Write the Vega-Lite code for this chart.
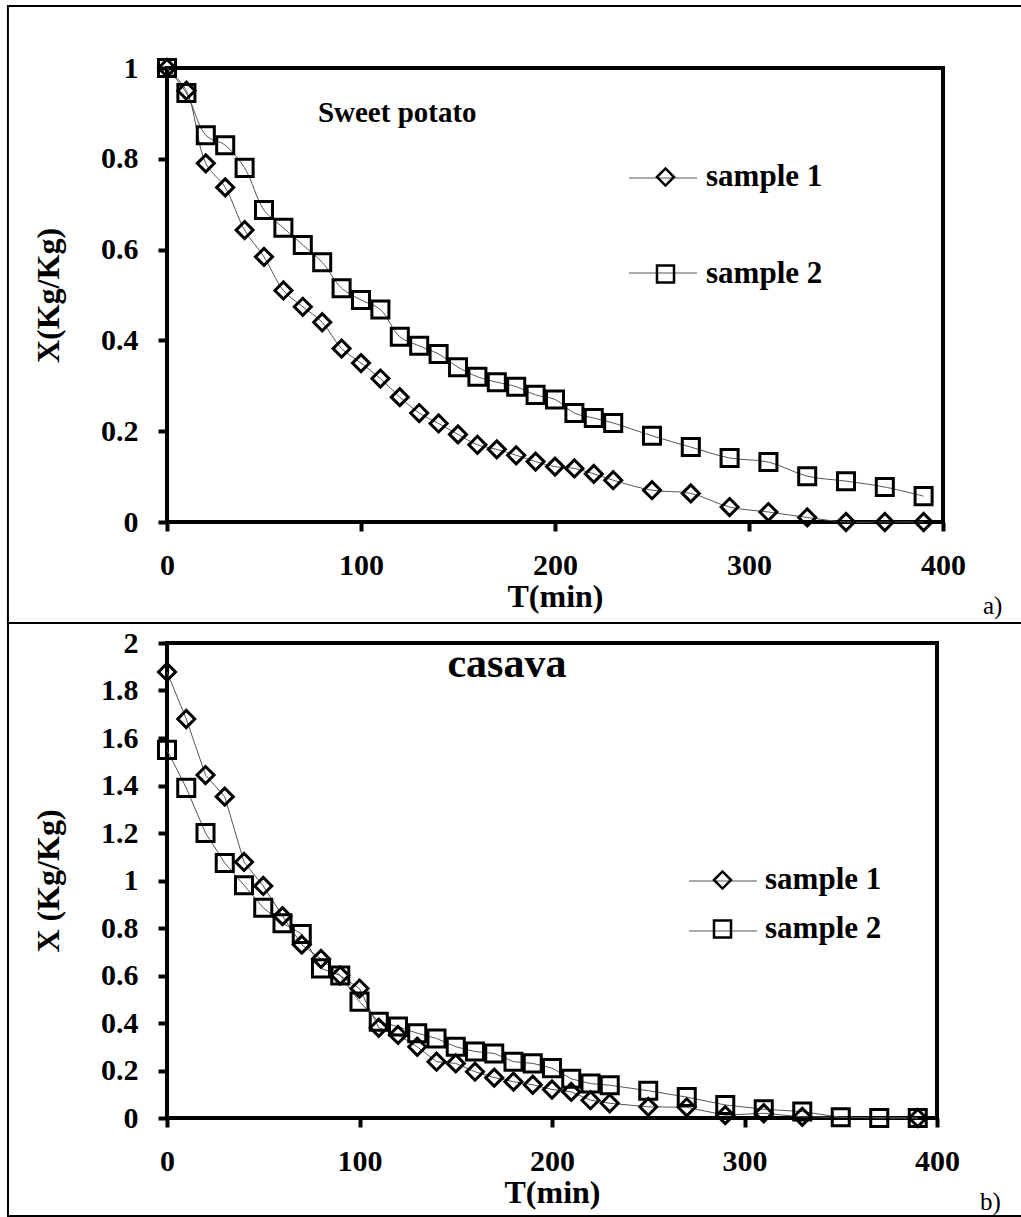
{
  "$schema": "https://vega.github.io/schema/vega-lite/v6.json",
  "padding": {"left": 4, "top": 2, "right": 0, "bottom": 0},
  "background": "white",
  "bounds": "flush",
  "spacing": 121,
  "resolve": {"scale": {"color": "independent", "shape": "independent"}},
  "datasets": {
    "sp": [
      {"t": 0, "X": 1.0, "sample": "sample 1", "series": "sample 1"},
      {"t": 10, "X": 0.95, "sample": "sample 1", "series": "sample 1"},
      {"t": 20, "X": 0.79, "sample": "sample 1", "series": "sample 1"},
      {"t": 30, "X": 0.737, "sample": "sample 1", "series": "sample 1"},
      {"t": 40, "X": 0.643, "sample": "sample 1", "series": "sample 1"},
      {"t": 50, "X": 0.584, "sample": "sample 1", "series": "sample 1"},
      {"t": 60, "X": 0.51, "sample": "sample 1", "series": "sample 1"},
      {"t": 70, "X": 0.474, "sample": "sample 1", "series": "sample 1"},
      {"t": 80, "X": 0.44, "sample": "sample 1", "series": "sample 1"},
      {"t": 90, "X": 0.382, "sample": "sample 1", "series": "sample 1"},
      {"t": 100, "X": 0.35, "sample": "sample 1", "series": "sample 1"},
      {"t": 110, "X": 0.316, "sample": "sample 1", "series": "sample 1"},
      {"t": 120, "X": 0.275, "sample": "sample 1", "series": "sample 1"},
      {"t": 130, "X": 0.24, "sample": "sample 1", "series": "sample 1"},
      {"t": 140, "X": 0.217, "sample": "sample 1", "series": "sample 1"},
      {"t": 150, "X": 0.193, "sample": "sample 1", "series": "sample 1"},
      {"t": 160, "X": 0.17, "sample": "sample 1", "series": "sample 1"},
      {"t": 170, "X": 0.16, "sample": "sample 1", "series": "sample 1"},
      {"t": 180, "X": 0.147, "sample": "sample 1", "series": "sample 1"},
      {"t": 190, "X": 0.133, "sample": "sample 1", "series": "sample 1"},
      {"t": 200, "X": 0.122, "sample": "sample 1", "series": "sample 1"},
      {"t": 210, "X": 0.118, "sample": "sample 1", "series": "sample 1"},
      {"t": 220, "X": 0.106, "sample": "sample 1", "series": "sample 1"},
      {"t": 230, "X": 0.092, "sample": "sample 1", "series": "sample 1"},
      {"t": 250, "X": 0.07, "sample": "sample 1", "series": "sample 1"},
      {"t": 270, "X": 0.063, "sample": "sample 1", "series": "sample 1"},
      {"t": 290, "X": 0.033, "sample": "sample 1", "series": "sample 1"},
      {"t": 310, "X": 0.022, "sample": "sample 1", "series": "sample 1"},
      {"t": 330, "X": 0.01, "sample": "sample 1", "series": "sample 1"},
      {"t": 350, "X": 0.0, "sample": "sample 1", "series": "sample 1"},
      {"t": 370, "X": 0.0, "sample": "sample 1", "series": "sample 1"},
      {"t": 390, "X": 0.0, "sample": "sample 1", "series": "sample 1"},
      {"t": 0, "X": 1.0, "sample": "sample 2", "series": "sample 2"},
      {"t": 10, "X": 0.945, "sample": "sample 2", "series": "sample 2"},
      {"t": 20, "X": 0.852, "sample": "sample 2", "series": "sample 2"},
      {"t": 30, "X": 0.83, "sample": "sample 2", "series": "sample 2"},
      {"t": 40, "X": 0.78, "sample": "sample 2", "series": "sample 2"},
      {"t": 50, "X": 0.687, "sample": "sample 2", "series": "sample 2"},
      {"t": 60, "X": 0.648, "sample": "sample 2", "series": "sample 2"},
      {"t": 70, "X": 0.61, "sample": "sample 2", "series": "sample 2"},
      {"t": 80, "X": 0.572, "sample": "sample 2", "series": "sample 2"},
      {"t": 90, "X": 0.515, "sample": "sample 2", "series": "sample 2"},
      {"t": 100, "X": 0.489, "sample": "sample 2", "series": "sample 2"},
      {"t": 110, "X": 0.468, "sample": "sample 2", "series": "sample 2"},
      {"t": 120, "X": 0.408, "sample": "sample 2", "series": "sample 2"},
      {"t": 130, "X": 0.388, "sample": "sample 2", "series": "sample 2"},
      {"t": 140, "X": 0.37, "sample": "sample 2", "series": "sample 2"},
      {"t": 150, "X": 0.341, "sample": "sample 2", "series": "sample 2"},
      {"t": 160, "X": 0.32, "sample": "sample 2", "series": "sample 2"},
      {"t": 170, "X": 0.308, "sample": "sample 2", "series": "sample 2"},
      {"t": 180, "X": 0.298, "sample": "sample 2", "series": "sample 2"},
      {"t": 190, "X": 0.28, "sample": "sample 2", "series": "sample 2"},
      {"t": 200, "X": 0.27, "sample": "sample 2", "series": "sample 2"},
      {"t": 210, "X": 0.24, "sample": "sample 2", "series": "sample 2"},
      {"t": 220, "X": 0.229, "sample": "sample 2", "series": "sample 2"},
      {"t": 230, "X": 0.218, "sample": "sample 2", "series": "sample 2"},
      {"t": 250, "X": 0.19, "sample": "sample 2", "series": "sample 2"},
      {"t": 270, "X": 0.165, "sample": "sample 2", "series": "sample 2"},
      {"t": 290, "X": 0.141, "sample": "sample 2", "series": "sample 2"},
      {"t": 310, "X": 0.132, "sample": "sample 2", "series": "sample 2"},
      {"t": 330, "X": 0.101, "sample": "sample 2", "series": "sample 2"},
      {"t": 350, "X": 0.09, "sample": "sample 2", "series": "sample 2"},
      {"t": 370, "X": 0.077, "sample": "sample 2", "series": "sample 2"},
      {"t": 390, "X": 0.057, "sample": "sample 2", "series": "sample 2"}
    ],
    "cas": [
      {"t": 0, "X": 1.878, "sample": "sample 1", "series": "sample 1"},
      {"t": 10, "X": 1.68, "sample": "sample 1", "series": "sample 1"},
      {"t": 20, "X": 1.444, "sample": "sample 1", "series": "sample 1"},
      {"t": 30, "X": 1.353, "sample": "sample 1", "series": "sample 1"},
      {"t": 40, "X": 1.078, "sample": "sample 1", "series": "sample 1"},
      {"t": 50, "X": 0.977, "sample": "sample 1", "series": "sample 1"},
      {"t": 60, "X": 0.85, "sample": "sample 1", "series": "sample 1"},
      {"t": 70, "X": 0.73, "sample": "sample 1", "series": "sample 1"},
      {"t": 80, "X": 0.67, "sample": "sample 1", "series": "sample 1"},
      {"t": 90, "X": 0.6, "sample": "sample 1", "series": "sample 1"},
      {"t": 100, "X": 0.545, "sample": "sample 1", "series": "sample 1"},
      {"t": 110, "X": 0.38, "sample": "sample 1", "series": "sample 1"},
      {"t": 120, "X": 0.35, "sample": "sample 1", "series": "sample 1"},
      {"t": 130, "X": 0.3, "sample": "sample 1", "series": "sample 1"},
      {"t": 140, "X": 0.237, "sample": "sample 1", "series": "sample 1"},
      {"t": 150, "X": 0.23, "sample": "sample 1", "series": "sample 1"},
      {"t": 160, "X": 0.195, "sample": "sample 1", "series": "sample 1"},
      {"t": 170, "X": 0.17, "sample": "sample 1", "series": "sample 1"},
      {"t": 180, "X": 0.153, "sample": "sample 1", "series": "sample 1"},
      {"t": 190, "X": 0.14, "sample": "sample 1", "series": "sample 1"},
      {"t": 200, "X": 0.12, "sample": "sample 1", "series": "sample 1"},
      {"t": 210, "X": 0.11, "sample": "sample 1", "series": "sample 1"},
      {"t": 220, "X": 0.075, "sample": "sample 1", "series": "sample 1"},
      {"t": 230, "X": 0.062, "sample": "sample 1", "series": "sample 1"},
      {"t": 250, "X": 0.047, "sample": "sample 1", "series": "sample 1"},
      {"t": 270, "X": 0.045, "sample": "sample 1", "series": "sample 1"},
      {"t": 290, "X": 0.012, "sample": "sample 1", "series": "sample 1"},
      {"t": 310, "X": 0.02, "sample": "sample 1", "series": "sample 1"},
      {"t": 330, "X": 0.005, "sample": "sample 1", "series": "sample 1"},
      {"t": 390, "X": 0.0, "sample": "sample 1", "series": "sample 1"},
      {"t": 0, "X": 1.55, "sample": "sample 2", "series": "sample 2"},
      {"t": 10, "X": 1.39, "sample": "sample 2", "series": "sample 2"},
      {"t": 20, "X": 1.2, "sample": "sample 2", "series": "sample 2"},
      {"t": 30, "X": 1.074, "sample": "sample 2", "series": "sample 2"},
      {"t": 40, "X": 0.98, "sample": "sample 2", "series": "sample 2"},
      {"t": 50, "X": 0.885, "sample": "sample 2", "series": "sample 2"},
      {"t": 60, "X": 0.82, "sample": "sample 2", "series": "sample 2"},
      {"t": 70, "X": 0.775, "sample": "sample 2", "series": "sample 2"},
      {"t": 80, "X": 0.63, "sample": "sample 2", "series": "sample 2"},
      {"t": 90, "X": 0.6, "sample": "sample 2", "series": "sample 2"},
      {"t": 100, "X": 0.49, "sample": "sample 2", "series": "sample 2"},
      {"t": 110, "X": 0.405, "sample": "sample 2", "series": "sample 2"},
      {"t": 120, "X": 0.385, "sample": "sample 2", "series": "sample 2"},
      {"t": 130, "X": 0.357, "sample": "sample 2", "series": "sample 2"},
      {"t": 140, "X": 0.335, "sample": "sample 2", "series": "sample 2"},
      {"t": 150, "X": 0.3, "sample": "sample 2", "series": "sample 2"},
      {"t": 160, "X": 0.28, "sample": "sample 2", "series": "sample 2"},
      {"t": 170, "X": 0.272, "sample": "sample 2", "series": "sample 2"},
      {"t": 180, "X": 0.237, "sample": "sample 2", "series": "sample 2"},
      {"t": 190, "X": 0.23, "sample": "sample 2", "series": "sample 2"},
      {"t": 200, "X": 0.21, "sample": "sample 2", "series": "sample 2"},
      {"t": 210, "X": 0.165, "sample": "sample 2", "series": "sample 2"},
      {"t": 220, "X": 0.145, "sample": "sample 2", "series": "sample 2"},
      {"t": 230, "X": 0.138, "sample": "sample 2", "series": "sample 2"},
      {"t": 250, "X": 0.115, "sample": "sample 2", "series": "sample 2"},
      {"t": 270, "X": 0.088, "sample": "sample 2", "series": "sample 2"},
      {"t": 290, "X": 0.055, "sample": "sample 2", "series": "sample 2"},
      {"t": 310, "X": 0.037, "sample": "sample 2", "series": "sample 2"},
      {"t": 330, "X": 0.027, "sample": "sample 2", "series": "sample 2"},
      {"t": 350, "X": 0.003, "sample": "sample 2", "series": "sample 2"},
      {"t": 370, "X": 0.0, "sample": "sample 2", "series": "sample 2"},
      {"t": 390, "X": 0.0, "sample": "sample 2", "series": "sample 2"}
    ]
  },
  "vconcat": [
    {
      "width": 776,
      "height": 454,
      "layer": [
        {
          "data": {"values": [{"box": "a"}]},
          "mark": {"type": "rect", "fill": "transparent", "stroke": "black", "strokeWidth": 2, "clip": false},
          "encoding": {
            "x": {"datum": -82, "type": "quantitative", "scale": {"domain": [0, 400]}},
            "x2": {"datum": 442},
            "y": {"datum": 1.1366, "type": "quantitative", "scale": {"domain": [0, 1]}},
            "y2": {"datum": -0.2225}
          }
        },
        {
          "data": {"name": "sp"},
          "mark": {"type": "line", "strokeWidth": 1, "interpolate": "catmull-rom"},
          "encoding": {
            "x": {"field": "t", "type": "quantitative", "scale": {"domain": [0, 400]}, "axis": {"values": [0, 100, 200, 300, 400], "title": "T(min)"}},
            "y": {"field": "X", "type": "quantitative", "scale": {"domain": [0, 1]}, "axis": {"values": [0, 0.2, 0.4, 0.6, 0.8, 1], "format": "~g", "title": "X(Kg/Kg)"}},
            "color": {"field": "sample", "type": "nominal", "scale": {"range": ["#555555", "#555555"]},
              "legend": {"orient": "none", "legendX": 461.5, "legendY": 75.5, "symbolType": "stroke", "symbolSize": 4624, "symbolStrokeWidth": 1, "labelExpr": "''", "labelFontSize": 31, "rowPadding": 45, "title": null, "padding": 0}}
          }
        },
        {
          "data": {"name": "sp"},
          "mark": {"type": "point", "filled": false, "color": "black", "strokeWidth": 3, "size": 290, "opacity": 1},
          "encoding": {
            "x": {"field": "t", "type": "quantitative", "scale": {"domain": [0, 400]}},
            "y": {"field": "X", "type": "quantitative", "scale": {"domain": [0, 1]}},
            "shape": {"field": "series", "type": "nominal", "scale": {"range": ["diamond", "square"]},
              "legend": {"orient": "none", "legendX": 483, "legendY": 93.5, "symbolSize": 290, "symbolStrokeWidth": 2.5, "symbolStrokeColor": "black", "symbolFillColor": "transparent", "labelFontSize": 31, "labelOffset": 25, "rowPadding": 65, "title": null, "padding": 0}}
          }
        },
        {
          "data": {"values": [{"label": "Sweet potato"}]},
          "mark": {"type": "text", "font": "Liberation Serif", "fontWeight": "bold", "fontSize": 29, "align": "left", "baseline": "alphabetic", "color": "black"},
          "encoding": {
            "x": {"datum": 77.8, "type": "quantitative"},
            "y": {"datum": 0.881, "type": "quantitative"},
            "text": {"field": "label"}
          }
        },
        {
          "data": {"values": [{"label": "a)"}]},
          "mark": {"type": "text", "font": "Liberation Serif", "fontWeight": "normal", "fontSize": 25, "align": "left", "baseline": "alphabetic", "color": "black"},
          "encoding": {
            "x": {"datum": 420.6, "type": "quantitative"},
            "y": {"datum": -0.2026, "type": "quantitative"},
            "text": {"field": "label"}
          }
        }
      ]
    },
    {
      "width": 770,
      "height": 475,
      "layer": [
        {
          "data": {"values": [{"box": "b"}]},
          "mark": {"type": "rect", "fill": "transparent", "stroke": "black", "strokeWidth": 2, "clip": false},
          "encoding": {
            "x": {"datum": -82.6, "type": "quantitative", "scale": {"domain": [0, 400]}},
            "x2": {"datum": 445.5},
            "y": {"datum": 2.084, "type": "quantitative", "scale": {"domain": [0, 2]}},
            "y2": {"datum": -0.4126}
          }
        },
        {
          "data": {"name": "cas"},
          "mark": {"type": "line", "strokeWidth": 1, "interpolate": "linear"},
          "encoding": {
            "x": {"field": "t", "type": "quantitative", "scale": {"domain": [0, 400]}, "axis": {"values": [0, 100, 200, 300, 400], "title": "T(min)"}},
            "y": {"field": "X", "type": "quantitative", "scale": {"domain": [0, 2]}, "axis": {"values": [0, 0.2, 0.4, 0.6, 0.8, 1, 1.2, 1.4, 1.6, 1.8, 2], "format": "~g", "title": "X (Kg/Kg)"}},
            "color": {"field": "sample", "type": "nominal", "scale": {"range": ["#555555", "#555555"]},
              "legend": {"orient": "none", "legendX": 521.5, "legendY": 203.5, "symbolType": "stroke", "symbolSize": 4624, "symbolStrokeWidth": 1, "labelExpr": "''", "labelFontSize": 31, "rowPadding": -3, "title": null, "padding": 0}}
          }
        },
        {
          "data": {"name": "cas"},
          "mark": {"type": "point", "filled": false, "color": "black", "strokeWidth": 3, "size": 290, "opacity": 1},
          "encoding": {
            "x": {"field": "t", "type": "quantitative", "scale": {"domain": [0, 400]}},
            "y": {"field": "X", "type": "quantitative", "scale": {"domain": [0, 2]}},
            "shape": {"field": "series", "type": "nominal", "scale": {"range": ["diamond", "square"]},
              "legend": {"orient": "none", "legendX": 540, "legendY": 221.5, "symbolSize": 290, "symbolStrokeWidth": 2.5, "symbolStrokeColor": "black", "symbolFillColor": "transparent", "labelFontSize": 31, "labelOffset": 27, "rowPadding": 17, "title": null, "padding": 0}}
          }
        },
        {
          "data": {"values": [{"label": "casava"}]},
          "mark": {"type": "text", "font": "Liberation Serif", "fontWeight": "bold", "fontSize": 42, "align": "center", "baseline": "alphabetic", "color": "black"},
          "encoding": {
            "x": {"datum": 176.6, "type": "quantitative"},
            "y": {"datum": 1.855, "type": "quantitative"},
            "text": {"field": "label"}
          }
        },
        {
          "data": {"values": [{"label": "b)"}]},
          "mark": {"type": "text", "font": "Liberation Serif", "fontWeight": "normal", "fontSize": 25, "align": "left", "baseline": "alphabetic", "color": "black"},
          "encoding": {
            "x": {"datum": 422.3, "type": "quantitative"},
            "y": {"datum": -0.387, "type": "quantitative"},
            "text": {"field": "label"}
          }
        }
      ]
    }
  ],
  "config": {
    "font": "Liberation Serif",
    "view": {"stroke": "black", "strokeWidth": 4},
    "axis": {
      "grid": false,
      "domain": false,
      "ticks": true,
      "tickSize": 9,
      "tickWidth": 4,
      "tickColor": "black",
      "labelFont": "Liberation Serif",
      "labelFontWeight": "bold",
      "labelFontSize": 30,
      "labelColor": "black",
      "titleFont": "Liberation Serif",
      "titleFontWeight": "bold",
      "titleFontSize": 32,
      "titleColor": "black"
    },
    "axisX": {"labelPadding": 19, "titlePadding": 1, "labelFlush": false},
    "axisY": {"labelPadding": 20, "titlePadding": 35},
    "legend": {
      "labelFont": "Liberation Serif",
      "labelFontWeight": "bold",
      "labelColor": "black",
      "padding": 0
    }
  }
}
